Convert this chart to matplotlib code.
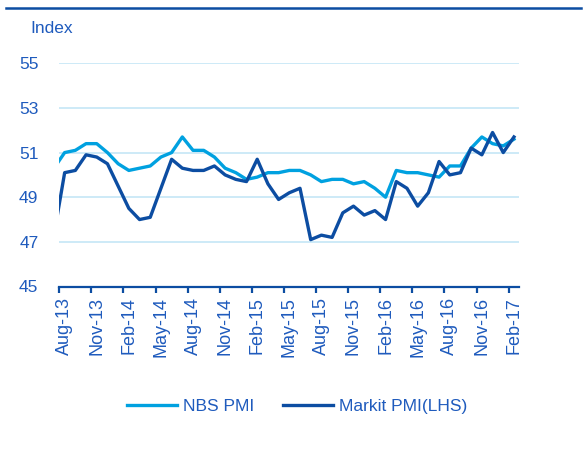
import matplotlib
matplotlib.use("Agg")
import matplotlib.pyplot as plt
from matplotlib.lines import Line2D
from matplotlib.ticker import FixedLocator

# months Jul-13 .. Feb-17 (Jul-13 sits just left of the axis and gets clipped)
start_year, start_month = 2013, 7
n_points = 44
month_names = ["Jan", "Feb", "Mar", "Apr", "May", "Jun",
               "Jul", "Aug", "Sep", "Oct", "Nov", "Dec"]

nbs_pmi = [50.3, 51.0, 51.1, 51.4, 51.4, 51.0,
           50.5, 50.2, 50.3, 50.4, 50.8, 51.0, 51.7, 51.1, 51.1, 50.8, 50.3, 50.1,
           49.8, 49.9, 50.1, 50.1, 50.2, 50.2, 50.0, 49.7, 49.8, 49.8, 49.6, 49.7,
           49.4, 49.0, 50.2, 50.1, 50.1, 50.0, 49.9, 50.4, 50.4, 51.2, 51.7, 51.4,
           51.3, 51.6]
markit_pmi = [47.3, 50.1, 50.2, 50.9, 50.8, 50.5,
              49.5, 48.5, 48.0, 48.1, 49.4, 50.7, 50.3, 50.2, 50.2, 50.4, 50.0, 49.8,
              49.7, 50.7, 49.6, 48.9, 49.2, 49.4, 47.1, 47.3, 47.2, 48.3, 48.6, 48.2,
              48.4, 48.0, 49.7, 49.4, 48.6, 49.2, 50.6, 50.0, 50.1, 51.2, 50.9, 51.9,
              51.0, 51.7]
y_ticks = [45, 47, 49, 51, 53, 55]

# build month labels, x index 0 = Aug-13
labels = []
for k in range(n_points):
    m = (start_month - 1 + k) % 12
    y = start_year + (start_month - 1 + k) // 12
    labels.append(f"{month_names[m]}-{y % 100:02d}")
x = list(range(-1, n_points - 1))

light = "#00A1E0"
dark = "#0C4DA2"
text_c = "#1F5BBD"
grid_c = "#CDEAF7"

plt.rcParams['font.family'] = ['Liberation Sans', 'DejaVu Sans']

fig = plt.figure(figsize=(5.83, 4.53), dpi=100)
ax = fig.add_axes([59.3 / 583, 1 - 286.5 / 453, 460 / 583, 223.2 / 453])

ax.plot(x, nbs_pmi, color=light, lw=2.4, label="NBS PMI", zorder=3)
ax.plot(x, markit_pmi, color=dark, lw=2.4, label="Markit PMI(LHS)", zorder=4)

ax.set_xlim(-0.5, n_points - 1.5)
ax.set_ylim(45, 55)

# y axis
ax.set_yticks(y_ticks)
ax.yaxis.grid(True, color=grid_c, lw=1.4, zorder=0)
ax.set_axisbelow(True)
ax.tick_params(axis='y', length=0, pad=15, labelsize=12.5, labelcolor=text_c)

# x axis: ticks on category edges, labels on category centres
label_pos = list(range(0, n_points - 1, 3))
ax.xaxis.set_major_locator(FixedLocator([p - 0.5 for p in label_pos]))
ax.xaxis.set_minor_locator(FixedLocator(label_pos))
ax.set_xticklabels([])
ax.set_xticklabels([labels[p + 1] for p in label_pos], minor=True, rotation=90)
ax.tick_params(axis='x', which='major', direction='out', length=4.5, width=1.6, color=dark)
ax.tick_params(axis='x', which='minor', length=0, pad=7.5, labelsize=13, labelcolor=text_c)

for side in ['top', 'right', 'left']:
    ax.spines[side].set_visible(False)
ax.spines['bottom'].set_color(dark)
ax.spines['bottom'].set_linewidth(1.6)

fig.text(30.5 / 583, 1 - 28.5 / 453, "Index", color=text_c, fontsize=12.5,
         ha='left', va='center')

# rule at the top
fig.add_artist(Line2D([6 / 583, 581 / 583], [1 - 8 / 453, 1 - 8 / 453],
                      transform=fig.transFigure, color=dark, lw=1.8))

leg = fig.legend(loc='center', bbox_to_anchor=(297 / 583, 1 - 406.5 / 453), ncol=2,
                 frameon=False, fontsize=12.5, handlelength=2.9, handletextpad=0.35,
                 columnspacing=1.65)
for t in leg.get_texts():
    t.set_color(text_c)

fig.savefig("out.png", dpi=100)
